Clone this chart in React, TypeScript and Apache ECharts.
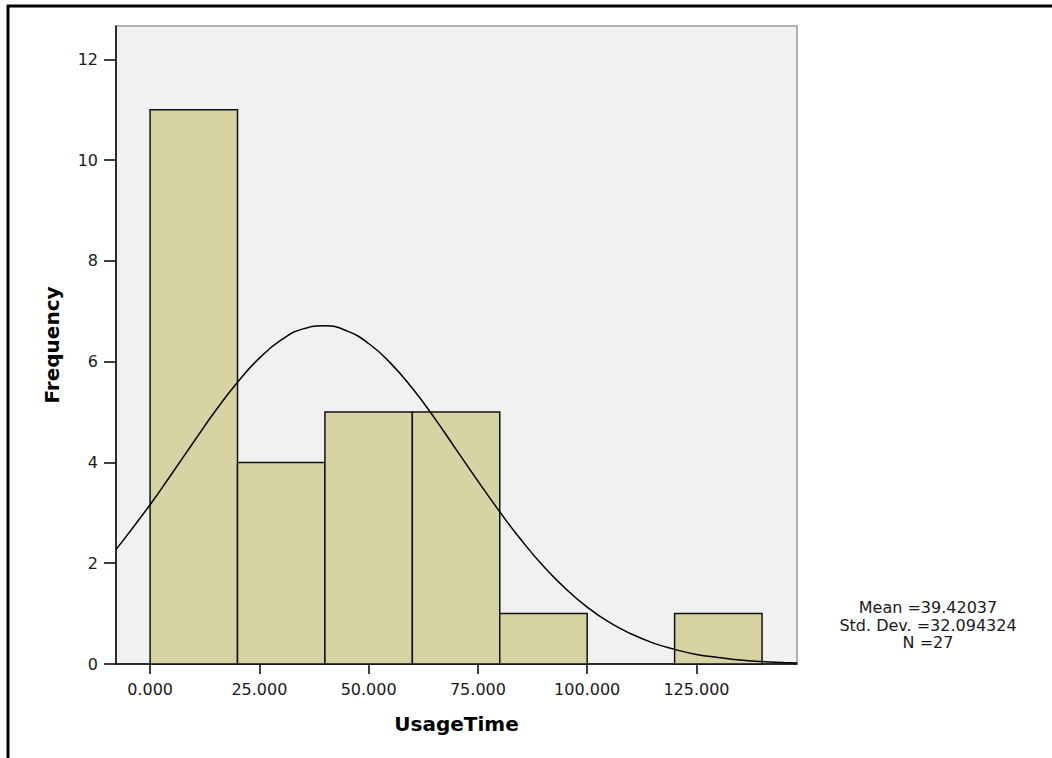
import React, { useEffect, useRef } from "react";
import * as echarts from "echarts";

// Histogram bins (UsageTime), width 20
const binStart = [0, 20, 40, 60, 80, 100, 120];
const binEnd = [20, 40, 60, 80, 100, 120, 140];
const frequency = [11, 4, 5, 5, 1, 0, 1];

// Normal curve points
const curveX = [-7.8, 0, 5, 10, 15, 20, 25, 30, 35, 40, 45, 50, 55, 60, 65, 70, 75, 80, 85, 90, 95, 100, 105, 110, 115, 120, 125, 130, 135, 140, 145, 148];
const curveY = [2.27, 3.16, 3.78, 4.41, 5.03, 5.59, 6.07, 6.43, 6.65, 6.71, 6.61, 6.36, 5.97, 5.47, 4.89, 4.26, 3.63, 3.02, 2.45, 1.94, 1.5, 1.13, 0.83, 0.6, 0.42, 0.29, 0.19, 0.13, 0.08, 0.05, 0.03, 0.02];

const xTicks = [0, 25, 50, 75, 100, 125];
const yTicks = [0, 2, 4, 6, 8, 10, 12];

const statsLines = ["Mean =39.42037", "Std. Dev. =32.094324", "N =27"];

const FONT = "DejaVu Sans";

export default function App() {
  const ref = useRef<HTMLDivElement>(null);
  useEffect(() => {
    if (!ref.current) return;
    const chart = echarts.init(ref.current, null, { renderer: "svg" });
    const barData = binStart.map((s, i) => [s, binEnd[i], frequency[i]]);
    const lineData = curveX.map((x, i) => [x, curveY[i]]);
    chart.setOption({
      animation: false,
      backgroundColor: "#ffffff",
      textStyle: { fontFamily: FONT },
      grid: {
        left: 116,
        top: 26,
        right: 255,
        bottom: 94,
        show: true,
        backgroundColor: "#f1f1f1",
        borderColor: "#9a9a9a",
        borderWidth: 1.5,
      },
      xAxis: {
        type: "value",
        min: -7.8,
        max: 148,
        name: "UsageTime",
        nameLocation: "middle",
        nameGap: 50,
        nameTextStyle: { fontFamily: FONT, fontSize: 20, fontWeight: "bold", color: "#000" },
        splitLine: { show: false },
        axisLine: { show: true, onZero: false, lineStyle: { color: "#000", width: 1.5 } },
        axisTick: { show: true, length: 10, customValues: xTicks, lineStyle: { color: "#000", width: 1.5 } },
        axisLabel: {
          customValues: xTicks,
          formatter: (v: number) => v.toFixed(3),
          fontFamily: FONT,
          fontSize: 16,
          color: "#1a1a1a",
          margin: 17,
        },
      },
      yAxis: {
        type: "value",
        min: 0,
        max: 12.66,
        name: "Frequency",
        nameLocation: "middle",
        nameGap: 54,
        nameTextStyle: { fontFamily: FONT, fontSize: 20, fontWeight: "bold", color: "#000" },
        splitLine: { show: false },
        axisLine: { show: true, onZero: false, lineStyle: { color: "#000", width: 1.5 } },
        axisTick: { show: true, length: 12, customValues: yTicks, lineStyle: { color: "#000", width: 1.5 } },
        axisLabel: {
          customValues: yTicks,
          fontFamily: FONT,
          fontSize: 16,
          color: "#1a1a1a",
          margin: 18,
        },
      },
      series: [
        {
          type: "custom",
          data: barData,
          encode: { x: [0, 1], y: 2 },
          renderItem: (params: any, api: any) => {
            const p0 = api.coord([api.value(0), 0]);
            const p1 = api.coord([api.value(1), api.value(2)]);
            if (api.value(2) <= 0) return null;
            return {
              type: "rect",
              shape: { x: p0[0], y: p1[1], width: p1[0] - p0[0], height: p0[1] - p1[1] },
              style: { fill: "#d7d3a3", stroke: "#111", lineWidth: 1.5 },
            };
          },
          z: 2,
        },
        {
          type: "line",
          data: lineData,
          smooth: true,
          symbol: "none",
          clip: true,
          lineStyle: { color: "#000", width: 1.5 },
          z: 3,
        },
      ],
      graphic: [
        { type: "line", shape: { x1: 7, y1: 6, x2: 1052, y2: 6 }, style: { stroke: "#000", lineWidth: 3 } },
        { type: "line", shape: { x1: 8, y1: 5, x2: 8, y2: 758 }, style: { stroke: "#000", lineWidth: 3 } },
        {
          type: "text",
          x: 928,
          y: 625,
          style: {
            text: statsLines.join("\n"),
            fontFamily: FONT,
            fontSize: 16,
            lineHeight: 17.5,
            fill: "#1a1a1a",
            align: "center",
            verticalAlign: "middle",
          },
        },
      ],
    });
    return () => chart.dispose();
  }, []);
  return (
    <div
      ref={ref}
      style={{ position: "absolute", left: 0, top: 0, width: 1052, height: 758, background: "#fff" }}
    />
  );
}
